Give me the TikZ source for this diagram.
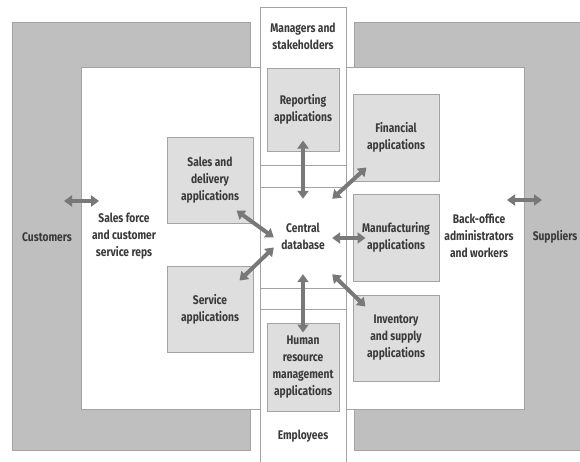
\documentclass[tikz,border=0pt]{standalone}
\usepackage{fontspec}
\setmainfont{Fira Sans}[FakeStretch=0.82]
\usetikzlibrary{arrows.meta}

\definecolor{zonegray}{HTML}{BFBFBF}
\definecolor{boxgray}{HTML}{DEDEDE}
\definecolor{edgegray}{HTML}{A3A3A3}
\definecolor{arrowgray}{HTML}{787878}
\definecolor{inkgray}{HTML}{3A3A3A}

\tikzset{
  lbl/.style={font=\fontsize{12.5}{17}\selectfont\bfseries, text=inkgray, align=center, inner sep=0pt},
  zone/.style={fill=zonegray, draw=edgegray, line width=1pt},
  area/.style={fill=white, draw=edgegray, line width=1pt},
  appbox/.style={lbl, rectangle, fill=boxgray, draw=edgegray, line width=1pt},
  link/.style={draw=arrowgray, line width=4pt,
    {Triangle[width=11pt,length=8pt]}-{Triangle[width=11pt,length=8pt]}},
}

\begin{document}
\begin{tikzpicture}[x=1pt, y=-1pt]
\useasboundingbox (0,0) rectangle (580,461);

% outer zones for customers and suppliers
\draw[zone] (12,22) rectangle (250,450);
\draw[zone] (354,22) rectangle (590,450);

% inner white areas
\draw[area] (81,67) rectangle (260,409);
\draw[area] (346,67) rectangle (524,409);

% central column
\fill[white] (260,7) rectangle (346,470);
\draw[edgegray, line width=1pt] (260,470) -- (260,7) -- (346,7) -- (346,470);
\foreach \yy in {165,187,288,309}
  \draw[edgegray, line width=1pt] (260,\yy) -- (346,\yy);

% application boxes
\node[appbox, minimum width=72pt, minimum height=83pt] (rep) at (303,109.5) {Reporting\\applications};
\node[appbox, minimum width=86pt, minimum height=87pt] (fin) at (396,137.5) {Financial\\applications};
\node[appbox, minimum width=86pt, minimum height=87pt] (man) at (396,237.5) {Manufacturing\\applications};
\node[appbox, minimum width=86pt, minimum height=86pt] (inv) at (396,338) {Inventory\\and supply\\applications};
\node[appbox, minimum width=86pt, minimum height=86pt] (sal) at (210,180) {Sales and\\delivery\\applications};
\node[appbox, minimum width=86pt, minimum height=86pt] (svc) at (210,309) {Service\\applications};
\node[appbox, minimum width=72pt, minimum height=88pt] (hr) at (303,367) {Human\\resource\\management\\applications};

% central database
\node[lbl, minimum width=58pt, minimum height=75pt] (db) at (303,236.5) {Central\\database};

% people
\node[lbl] (mgr) at (303,36.5) {Managers and\\stakeholders};
\node[lbl] (emp) at (303,436) {Employees};
\node[lbl] (cust) at (47,237) {Customers};
\node[lbl] (sf) at (124,236) {Sales force\\and customer\\service reps};
\node[lbl] (bo) at (479,236) {Back-office\\administrators\\and workers};
\node[lbl] (sup) at (555,237) {Suppliers};

% links to the central database
\draw[link] ([yshift=11pt]rep.south) -- (db.north);
\draw[link] ([yshift=-10pt]hr.north) -- (db.south);
\draw[link] (db.north east) -- ([shift={(14pt,14pt)}]fin.south west);
\draw[link] ([yshift=-1.5pt]db.east) -- ([xshift=13pt,yshift=-0.5pt]man.west);
\draw[link] (db.south east) -- ([shift={(13pt,-12pt)}]inv.north west);
\draw[link] ([shift={(-17pt,13pt)}]sal.south east) -- ([yshift=-1pt]db.west);
\draw[link] ([yshift=-11pt]db.west) -- ([shift={(-14pt,-15pt)}]svc.north east);

% links to the outside world
\coordinate (custL) at (64,201);
\coordinate (custR) at (99,201);
\coordinate (supL) at (507,200);
\coordinate (supR) at (542,200);
\draw[link] (custL) -- (custR);
\draw[link] (supL) -- (supR);
\end{tikzpicture}
\end{document}
